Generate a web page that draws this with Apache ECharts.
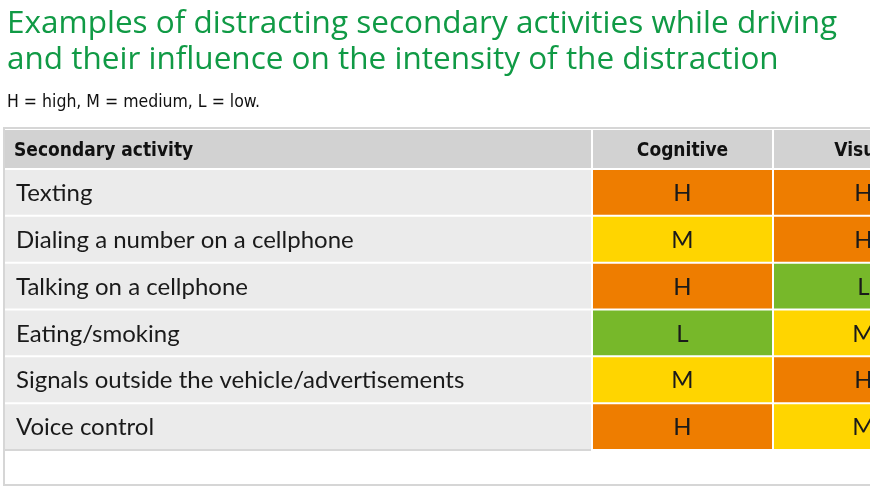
<!DOCTYPE html>
<html><head><meta charset="utf-8">
<script src="https://cdn.jsdelivr.net/npm/echarts@6/dist/echarts.min.js"></script>
<style>html,body{margin:0;padding:0;background:#fff}#main{width:870px;height:490px}</style>
</head><body><div id="main"></div>
<script>
const activities = ["Texting", "Dialing a number on a cellphone", "Talking on a cellphone",
  "Eating/smoking", "Signals outside the vehicle/advertisements", "Voice control"];
const columns = ["Secondary activity", "Cognitive", "Visual"];
const cognitive = ["H", "M", "H", "L", "M", "H"];
const visual = ["H", "H", "L", "M", "H", "M"];
const levelColor = { H: "#ee7d00", M: "#ffd500", L: "#77b82a" };
// column edges in x-axis units (grid spans 0..866)
const colEdges = [0, 588, 769, 950];

const chart = echarts.init(document.getElementById("main"));

// [colIndex, rowIndex, text]
let cells = [];
activities.forEach((a, i) => cells.push([0, i, a]));
cognitive.forEach((v, i) => cells.push([1, i, v]));
visual.forEach((v, i) => cells.push([2, i, v]));

function renderCell(params, api) {
  const col = api.value(0), row = api.value(1);
  const val = cells[params.dataIndex][2];
  const p0 = api.coord([colEdges[col], row]);
  const p1 = api.coord([colEdges[col + 1], row]);
  const h = api.size([0, 1])[1];
  const x = p0[0] + 1, y = p0[1] - h / 2 + 1, w = p1[0] - p0[0] - 2;
  const left = col === 0;
  return {
    type: "group",
    children: [
      { type: "rect", shape: { x: x, y: y, width: w, height: h - 2 },
        style: { fill: left ? "#ebebeb" : levelColor[val] } },
      { type: "text", style: {
          text: val, x: left ? x + 11 : x + w / 2, y: p0[1] + 1,
          align: left ? "left" : "center", verticalAlign: "middle",
          font: '400 24px Lato, "Open Sans", sans-serif', fill: "#1a1a1a" } }
    ]
  };
}

const headerFont = 'bold condensed 19px "DejaVu Sans", sans-serif';
const headerGraphics = [];
columns.forEach((c, i) => {
  const x0 = 4 + colEdges[i] + 1, x1 = 4 + colEdges[i + 1] - 1;
  headerGraphics.push({ type: "rect", shape: { x: x0, y: 130, width: x1 - x0, height: 38 },
    style: { fill: "#d2d2d2" }, z: -5 });
  headerGraphics.push({ type: "text", z: 5, style: {
    text: c, x: i === 0 ? x0 + 9 : (x0 + x1) / 2, y: 151,
    align: i === 0 ? "left" : "center", verticalAlign: "middle", font: headerFont, fill: "#111" } });
});

chart.setOption({
  animation: false,
  title: [
    { text: "Examples of distracting secondary activities while driving\nand their influence on the intensity of the distraction",
      left: 2, top: 1,
      textStyle: { fontFamily: "Open Sans", fontWeight: 400, fontSize: 31.5, lineHeight: 36, color: "#109a45" } },
    { text: "H = high, M = medium, L = low.", left: 2, top: 88,
      textStyle: { fontFamily: "DejaVu Sans Condensed", fontWeight: 400, fontSize: 17.5, color: "#111" } }
  ],
  graphic: [
    { type: "rect", shape: { x: 4, y: 128, width: 900, height: 357 }, style: { fill: "#fff", stroke: "#d6d6d6", lineWidth: 2 }, z: -10 },
    { type: "rect", shape: { x: 5, y: 449, width: 586, height: 2 }, style: { fill: "#d6d6d6" }, z: -5 }
  ].concat(headerGraphics),
  grid: { left: 4, width: 866, top: 169, height: 281 },
  xAxis: { type: "value", min: 0, max: 866, show: false },
  yAxis: { type: "category", inverse: true, data: activities, show: false },
  series: [
    { type: "custom", data: cells.map(c => [c[0], c[1]]), renderItem: renderCell }
  ]
});
</script></body></html>
